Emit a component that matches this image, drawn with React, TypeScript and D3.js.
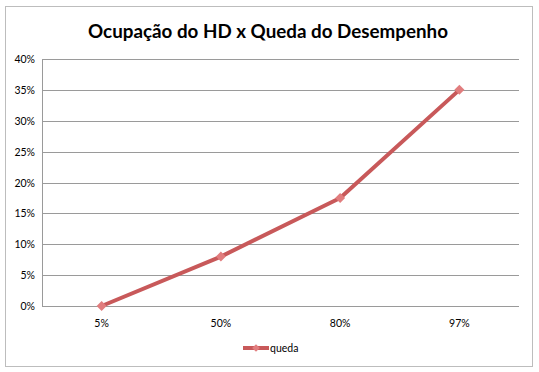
import React, { useEffect, useRef } from 'react';
import * as d3 from 'd3';

const categories = ['5%', '50%', '80%', '97%'];
const queda = [0, 0.08, 0.175, 0.35];
const yTicks = [0, 0.05, 0.1, 0.15, 0.2, 0.25, 0.3, 0.35, 0.4];
const seriesName = 'queda';
const title = 'Ocupação do HD x Queda do Desempenho';

function App() {
  const svgRef = useRef<SVGSVGElement>(null);

  useEffect(() => {
    if (!svgRef.current) return;
    const width = 539;
    const height = 372;
    const margin = { top: 59, right: 20, bottom: 66, left: 42 };
    const font = 'Lato, "Open Sans", sans-serif';

    const svg = d3.select(svgRef.current);
    svg.selectAll('*').remove();
    svg.attr('width', width).attr('height', height);

    svg.append('rect').attr('width', width).attr('height', height).attr('fill', 'white');

    // outer frame
    svg.append('rect')
      .attr('x', 5.5).attr('y', 6.5)
      .attr('width', 527).attr('height', 360)
      .attr('fill', 'white')
      .attr('stroke', '#bdbdbd');

    svg.append('text')
      .attr('x', 268).attr('y', 38)
      .attr('text-anchor', 'middle')
      .attr('font-family', font)
      .attr('font-weight', 'bold')
      .attr('font-size', '18.8px')
      .attr('fill', '#000')
      .text(title);

    const x = d3.scaleBand()
      .domain(categories)
      .range([margin.left, width - margin.right]);

    const y = d3.scaleLinear()
      .domain([0, 0.4])
      .range([height - margin.bottom, margin.top]);

    const fmt = d3.format('.0%');

    // gridlines
    svg.append('g')
      .selectAll('line')
      .data(yTicks)
      .join('line')
      .attr('x1', margin.left)
      .attr('x2', width - margin.right)
      .attr('y1', d => Math.round(y(d)) + 0.5)
      .attr('y2', d => Math.round(y(d)) + 0.5)
      .attr('stroke', '#9a9a9a')
      .attr('stroke-width', 1);

    // left axis line
    svg.append('line')
      .attr('x1', margin.left + 0.5).attr('x2', margin.left + 0.5)
      .attr('y1', y(0.4)).attr('y2', y(0) + 0.5)
      .attr('stroke', '#9a9a9a');

    svg.append('g')
      .selectAll('text')
      .data(yTicks)
      .join('text')
      .attr('x', 35)
      .attr('y', d => y(d) + 4)
      .attr('text-anchor', 'end')
      .attr('font-family', font)
      .attr('font-size', '10.5px')
      .attr('fill', '#000')
      .text(d => fmt(d));

    svg.append('g')
      .selectAll('text')
      .data(categories)
      .join('text')
      .attr('x', d => (x(d) as number) + x.bandwidth() / 2)
      .attr('y', height - margin.bottom + 21)
      .attr('text-anchor', 'middle')
      .attr('font-family', font)
      .attr('font-size', '10.5px')
      .attr('fill', '#000')
      .text(d => d);

    const pts = categories.map((c, i) => [
      (x(c) as number) + x.bandwidth() / 2,
      y(queda[i]),
    ] as [number, number]);

    svg.append('path')
      .attr('d', d3.line()(pts))
      .attr('fill', 'none')
      .attr('stroke', '#c8595a')
      .attr('stroke-width', 4)
      .attr('stroke-linejoin', 'round');

    // diamond markers
    svg.append('g')
      .selectAll('path')
      .data(pts)
      .join('path')
      .attr('transform', d => `translate(${d[0]},${d[1]}) rotate(45)`)
      .attr('d', d3.symbol().type(d3.symbolSquare).size(50)())
      .attr('fill', '#e17d7e');

    // legend
    const lx = 243, ly = 348;
    svg.append('line')
      .attr('x1', lx).attr('x2', lx + 26)
      .attr('y1', ly).attr('y2', ly)
      .attr('stroke', '#c8595a')
      .attr('stroke-width', 4);
    svg.append('path')
      .attr('transform', `translate(${lx + 13},${ly}) rotate(45)`)
      .attr('d', d3.symbol().type(d3.symbolSquare).size(30)())
      .attr('fill', '#e17d7e');
    svg.append('text')
      .attr('x', lx + 27).attr('y', ly + 4)
      .attr('font-family', font)
      .attr('font-size', '10.5px')
      .attr('fill', '#000')
      .text(seriesName);
  }, []);

  return (
    <div style={{ position: 'absolute', left: 0, top: 0 }}>
      <svg ref={svgRef} style={{ display: 'block' }}></svg>
    </div>
  );
}

export default App;
